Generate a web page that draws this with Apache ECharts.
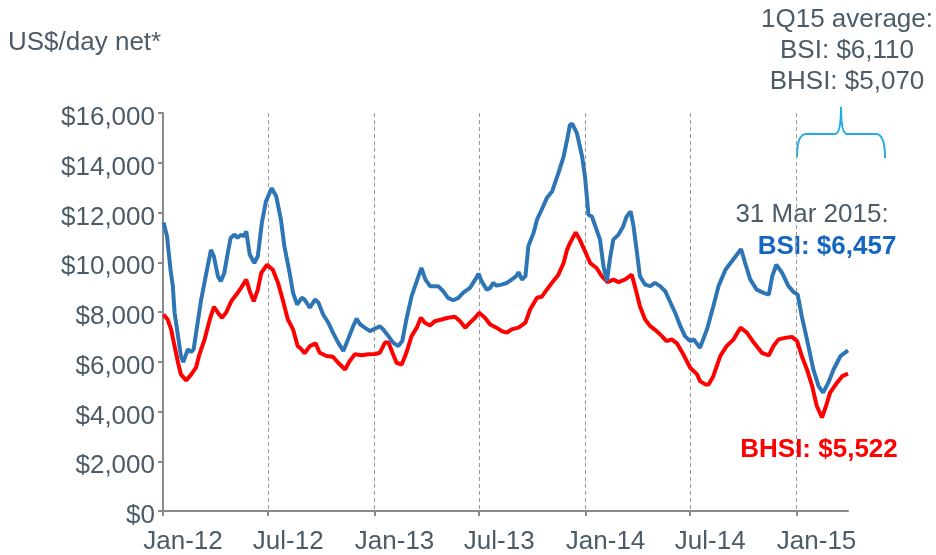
<!DOCTYPE html>
<html>
<head>
<meta charset="utf-8" />
<title>BSI / BHSI</title>
<script src="https://cdn.jsdelivr.net/npm/echarts@6/dist/echarts.min.js"></script>
<style>
  html, body { margin: 0; padding: 0; background: #fff; }
  #chart { width: 936px; height: 555px; }
</style>
</head>
<body>
<div id="chart"></div>
<script>
// values
var bsiDates = [
  '2012-01-02','2012-01-08','2012-01-14','2012-01-18','2012-01-21','2012-01-27','2012-02-01','2012-02-05',
  '2012-02-13','2012-02-19','2012-02-23','2012-03-01','2012-03-07','2012-03-16','2012-03-24','2012-03-29',
  '2012-04-05','2012-04-10','2012-04-16','2012-04-22','2012-04-27','2012-05-04','2012-05-09','2012-05-15',
  '2012-05-20','2012-05-24','2012-05-30','2012-06-07','2012-06-13','2012-06-20','2012-06-27','2012-07-07',
  '2012-07-15','2012-07-23','2012-07-29','2012-08-07','2012-08-13','2012-08-20','2012-08-28','2012-09-02',
  '2012-09-11','2012-09-20','2012-09-26','2012-10-04','2012-10-13','2012-10-21','2012-10-30','2012-11-08',
  '2012-11-16','2012-11-25','2012-12-01','2012-12-07','2012-12-15','2012-12-24','2013-01-02','2013-01-10',
  '2013-01-16','2013-01-25','2013-02-02','2013-02-11','2013-02-18','2013-02-25','2013-03-06','2013-03-15',
  '2013-03-23','2013-03-30','2013-04-07','2013-04-21','2013-04-30','2013-05-08','2013-05-17','2013-05-26',
  '2013-06-03','2013-06-15','2013-06-24','2013-06-30','2013-07-05','2013-07-14','2013-07-20','2013-07-25',
  '2013-07-31','2013-08-09','2013-08-18','2013-08-26','2013-09-03','2013-09-07','2013-09-13','2013-09-19',
  '2013-09-24','2013-10-03','2013-10-09','2013-10-17','2013-10-26','2013-11-04','2013-11-09','2013-11-15',
  '2013-11-24','2013-11-30','2013-12-05','2013-12-09','2013-12-17','2013-12-26','2013-12-31','2014-01-06',
  '2014-01-12','2014-01-20','2014-01-26','2014-02-01','2014-02-07','2014-02-12','2014-02-18','2014-02-27',
  '2014-03-07','2014-03-13','2014-03-20','2014-03-25','2014-03-31','2014-04-05','2014-04-14','2014-04-23',
  '2014-05-01','2014-05-10','2014-05-19','2014-05-28','2014-06-05','2014-06-14','2014-06-22','2014-07-01',
  '2014-07-07','2014-07-18','2014-07-30','2014-08-10','2014-08-19','2014-08-31','2014-09-11','2014-09-20',
  '2014-09-27','2014-10-04','2014-10-13','2014-10-24','2014-11-05','2014-11-14','2014-11-20','2014-11-27',
  '2014-12-07','2014-12-18','2014-12-27','2015-01-03','2015-01-10','2015-01-19','2015-01-30','2015-02-08',
  '2015-02-16','2015-02-25','2015-03-06','2015-03-18','2015-03-31'
];
var bsiValues = [
  11600, 11040, 9700, 9040, 7980, 7030, 6230, 5990,
  6500, 6390, 6500, 7580, 8500, 9570, 10500, 10240,
  9440, 9240, 9570, 10370, 10980, 11110, 10980, 11110,
  11040, 11240, 10310, 9970, 10240, 11580, 12440, 12980,
  12640, 11710, 10640, 9570, 8770, 8300, 8570, 8500,
  8170, 8500, 8370, 7900, 7570, 7170, 6770, 6430,
  6900, 7430, 7730, 7500, 7370, 7230, 7330, 7430,
  7300, 7030, 6770, 6630, 6830, 7700, 8630, 9240,
  9770, 9300, 9040, 9040, 8830, 8570, 8470, 8570,
  8770, 8970, 9300, 9540, 9240, 8900, 8970, 9170,
  9060, 9100, 9170, 9300, 9440, 9600, 9300, 9440,
  10640, 11180, 11710, 12110, 12580, 12840, 13180, 13580,
  14250, 14920, 15520, 15560, 15190, 14250, 13450, 11910,
  11840, 11310, 10910, 9840, 9240, 10110, 10910, 11110,
  11440, 11840, 12040, 11440, 10370, 9440, 9100, 9040,
  9170, 9040, 8830, 8370, 7970, 7430, 7030, 6830,
  6900, 6560, 7300, 8230, 9040, 9700, 10040, 10310,
  10530, 9970, 9300, 8900, 8770, 8700, 9440, 9900,
  9570, 9040, 8800, 8700, 7830, 6900, 5690, 5020,
  4760, 5160, 5690, 6230, 6457
];

var bhsiDates = [
  '2012-01-02','2012-01-09','2012-01-15','2012-01-21','2012-01-27','2012-02-01','2012-02-10','2012-02-19',
  '2012-02-27','2012-03-04','2012-03-13','2012-03-22','2012-03-29','2012-04-05','2012-04-12','2012-04-19',
  '2012-04-28','2012-05-07','2012-05-15','2012-05-24','2012-05-31','2012-06-06','2012-06-13','2012-06-19',
  '2012-06-29','2012-07-09','2012-07-18','2012-07-26','2012-08-04','2012-08-13','2012-08-21','2012-08-25',
  '2012-09-02','2012-09-11','2012-09-21','2012-09-28','2012-10-10','2012-10-21','2012-10-30','2012-11-11',
  '2012-11-19','2012-11-28','2012-12-10','2012-12-21','2013-01-02','2013-01-10','2013-01-19','2013-01-25',
  '2013-02-01','2013-02-08','2013-02-17','2013-02-25','2013-03-06','2013-03-15','2013-03-22','2013-03-29',
  '2013-04-07','2013-04-15','2013-04-27','2013-05-08','2013-05-20','2013-05-29','2013-06-07','2013-06-15',
  '2013-06-24','2013-07-01','2013-07-11','2013-07-20','2013-07-31','2013-08-09','2013-08-18','2013-08-26',
  '2013-09-07','2013-09-19','2013-09-27','2013-10-09','2013-10-17','2013-10-26','2013-11-06','2013-11-15',
  '2013-11-24','2013-11-30','2013-12-05','2013-12-15','2013-12-22','2013-12-31','2014-01-09','2014-01-20',
  '2014-01-29','2014-02-08','2014-02-18','2014-02-27','2014-03-10','2014-03-22','2014-03-31','2014-04-05',
  '2014-04-14','2014-04-23','2014-05-04','2014-05-13','2014-05-21','2014-05-30','2014-06-08','2014-06-14',
  '2014-06-19','2014-07-01','2014-07-13','2014-07-18','2014-07-27','2014-08-02','2014-08-10','2014-08-22',
  '2014-09-02','2014-09-14','2014-09-26','2014-10-07','2014-10-19','2014-11-02','2014-11-14','2014-11-22',
  '2014-12-01','2014-12-12','2014-12-24','2015-01-02','2015-01-10','2015-01-19','2015-01-28','2015-02-05',
  '2015-02-14','2015-02-21','2015-02-28','2015-03-12','2015-03-21','2015-03-31'
];
var bhsiValues = [
  7900, 7700, 7300, 6630, 5960, 5490, 5250, 5490,
  5760, 6300, 6900, 7700, 8210, 7970, 7770, 7970,
  8430, 8700, 8970, 9300, 8770, 8430, 8900, 9570,
  9900, 9700, 9170, 8500, 7700, 7300, 6630, 6560,
  6340, 6630, 6740, 6360, 6230, 6200, 5960, 5690,
  6030, 6300, 6260, 6300, 6310, 6360, 6770, 6770,
  6360, 5960, 5890, 6360, 7030, 7370, 7770, 7570,
  7460, 7630, 7700, 7770, 7810, 7630, 7370, 7570,
  7770, 7970, 7770, 7500, 7370, 7230, 7170, 7300,
  7370, 7570, 8100, 8570, 8610, 8900, 9240, 9500,
  9970, 10500, 10770, 11200, 10910, 10440, 9970, 9770,
  9440, 9200, 9300, 9200, 9300, 9500, 8700, 8230,
  7700, 7430, 7230, 7030, 6830, 6900, 6740, 6500,
  6300, 5760, 5490, 5220, 5090, 5090, 5420, 6230,
  6630, 6900, 7370, 7170, 6770, 6360, 6260, 6630,
  6900, 6960, 7000, 6830, 6230, 5690, 5020, 4220,
  3760, 4220, 4760, 5160, 5420, 5522
];

var yTicks = [0, 2000, 4000, 6000, 8000, 10000, 12000, 14000, 16000];
var noteLines = ['1Q15 average:', 'BSI: $6,110', 'BHSI: $5,070'];

function pairs(dates, vals) {
  return dates.map(function (d, i) { return [d, vals[i]]; });
}

var textColor = '#4b5b68';
var font = '"Liberation Sans", Arial, sans-serif';
var DAY = 86400000;
var braceColor = '#22ace6';

var chart = echarts.init(document.getElementById('chart'));

function braceLine(x1, y1, x2, y2) {
  return { type: 'line', shape: { x1: x1, y1: y1, x2: x2, y2: y2 }, style: { stroke: braceColor, lineWidth: 2 } };
}
function braceCurve(x1, y1, cx, cy, x2, y2) {
  return { type: 'bezierCurve', shape: { x1: x1, y1: y1, cpx1: cx, cpy1: cy, x2: x2, y2: y2 },
    style: { stroke: braceColor, lineWidth: 2, fill: null } };
}

var graphics = [
  { type: 'text', x: 8, y: 43, style: { text: 'US$/day net*', fill: textColor, font: '26px ' + font, verticalAlign: 'middle' } },
  { type: 'text', x: 847, y: 20, style: { text: noteLines[0], fill: textColor, font: '26px ' + font, align: 'center', verticalAlign: 'middle' } },
  { type: 'text', x: 847, y: 51, style: { text: noteLines[1], fill: textColor, font: '26px ' + font, align: 'center', verticalAlign: 'middle' } },
  { type: 'text', x: 847, y: 82, style: { text: noteLines[2], fill: textColor, font: '26px ' + font, align: 'center', verticalAlign: 'middle' } },
  // curly brace over 1Q15
  braceCurve(797, 157, 797, 134, 806, 134),
  braceLine(806, 134, 835, 134),
  braceCurve(835, 134, 841, 134, 841, 107),
  braceCurve(841, 107, 841, 134, 847, 134),
  braceLine(847, 134, 876, 134),
  braceCurve(876, 134, 885, 134, 885, 158),
  { type: 'text', x: 812, y: 215, style: { text: '31 Mar 2015:', fill: textColor, font: '26px ' + font, align: 'center', verticalAlign: 'middle' } },
  { type: 'text', x: 827, y: 247, style: { text: 'BSI: $6,457', fill: '#1566c2', font: 'bold 26px ' + font, align: 'center', verticalAlign: 'middle' } },
  { type: 'text', x: 819, y: 450, style: { text: 'BHSI: $5,522', fill: '#ff0000', font: 'bold 26px ' + font, align: 'center', verticalAlign: 'middle' } }
];

chart.setOption({
  animation: false,
  textStyle: { fontFamily: font },
  grid: { left: 163, right: 88, top: 113, bottom: 43, containLabel: false },
  xAxis: {
    type: 'time',
    min: '2012-01-01',
    max: '2015-03-31',
    minInterval: 181 * DAY,
    maxInterval: 184 * DAY,
    axisLine: { lineStyle: { color: '#8a8a8a', width: 2 } },
    axisTick: { show: true, length: 5, lineStyle: { color: '#8a8a8a', width: 2 } },
    axisLabel: {
      formatter: '{MMM}-{yy}', color: textColor, fontSize: 26, margin: 18, fontFamily: font,
      padding: [0, 0, 0, 40]
    },
    splitLine: { show: true, showMaxLine: false, lineStyle: { color: '#9a9a9a', width: 1, type: [4, 3] } }
  },
  yAxis: {
    type: 'value',
    min: yTicks[0],
    max: yTicks[yTicks.length - 1],
    interval: 2000,
    axisLine: { show: true, lineStyle: { color: '#8a8a8a', width: 2 } },
    axisTick: { show: true, length: 5, lineStyle: { color: '#8a8a8a', width: 2 } },
    axisLabel: {
      color: textColor, fontSize: 26, margin: 8, fontFamily: font,
      verticalAlign: 'top', lineHeight: 10,
      formatter: function (v) { return '$' + v.toLocaleString('en-US'); }
    },
    splitLine: { show: false }
  },
  series: [
    {
      name: 'BSI', type: 'line', data: pairs(bsiDates, bsiValues),
      showSymbol: false, smooth: false,
      lineStyle: { color: '#2e75b6', width: 4 }, z: 3
    },
    {
      name: 'BHSI', type: 'line', data: pairs(bhsiDates, bhsiValues),
      showSymbol: false, smooth: false,
      lineStyle: { color: '#ff0000', width: 4 }, z: 2
    }
  ],
  graphic: graphics
});
</script>
</body>
</html>
